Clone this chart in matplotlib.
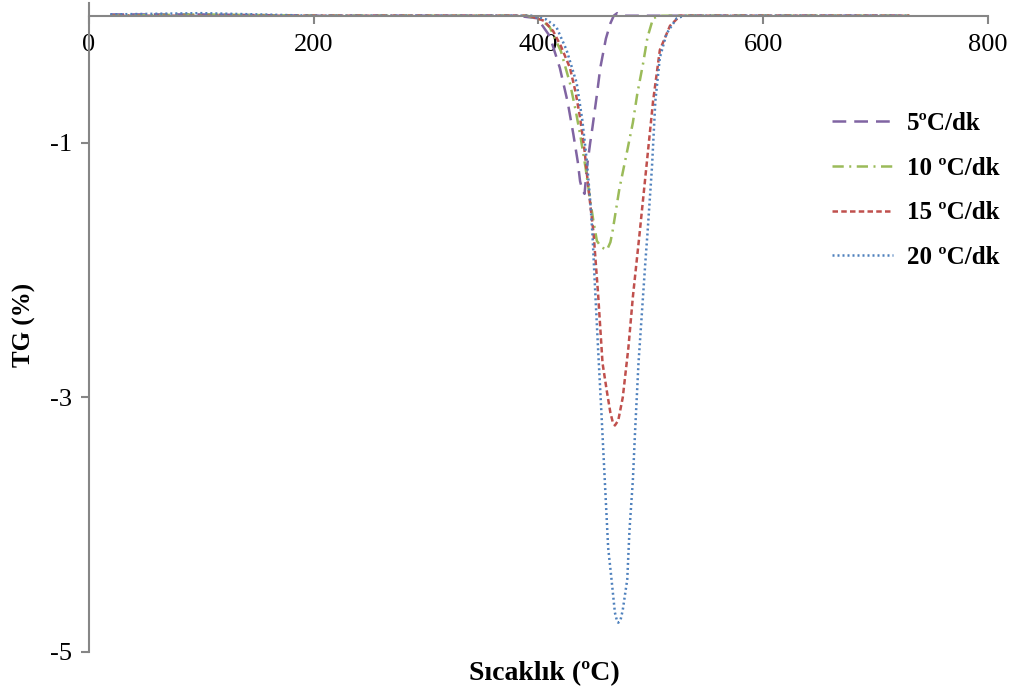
import matplotlib
matplotlib.use("Agg")
import matplotlib.pyplot as plt

# TG curves at four heating rates (temperature in ºC, mass change in %)
t_5 = [19, 100, 200, 300, 380, 399, 410, 419, 426, 431, 435, 437, 439, 441,
       443, 446, 448, 452, 455, 460, 464, 467, 470, 475, 490, 520, 600, 650, 730]
tg_5 = [0.01, 0.01, 0.0, 0.0, 0.0, -0.02, -0.16, -0.41, -0.68, -0.93, -1.15,
        -1.30, -1.37, -1.40, -1.20, -1.00, -0.88, -0.62, -0.41, -0.18, -0.06,
        0.0, 0.02, 0.0, 0.0, 0.0, 0.0, 0.0, 0.0]

t_10 = [19, 100, 200, 300, 390, 402, 410, 420, 428, 433, 437, 442, 446, 449,
        452, 456, 461, 464, 466, 472, 479, 484, 488, 493, 497, 502, 508, 530,
        600, 730]
tg_10 = [0.0, 0.01, 0.0, 0.0, 0.0, -0.03, -0.09, -0.28, -0.53, -0.74, -0.93,
         -1.20, -1.45, -1.62, -1.77, -1.82, -1.84, -1.78, -1.69, -1.36, -1.06,
         -0.84, -0.61, -0.38, -0.17, -0.02, 0.0, 0.0, 0.0, 0.0]

t_15 = [19, 100, 200, 300, 392, 405, 413, 420, 428, 433, 437, 441, 444, 449,
        453, 457, 461, 464, 466, 468, 471, 475, 480, 484, 490, 496, 502, 508,
        517, 526, 560, 600, 730]
tg_15 = [0.0, 0.0, 0.0, 0.0, 0.0, -0.04, -0.12, -0.24, -0.41, -0.60, -0.80,
         -1.06, -1.32, -1.71, -2.18, -2.73, -2.96, -3.12, -3.19, -3.22, -3.18,
         -3.00, -2.61, -2.21, -1.71, -1.19, -0.67, -0.27, -0.08, 0.0, 0.0,
         0.0, 0.0]

t_20 = [19, 100, 200, 300, 395, 407, 416, 425, 434, 439, 443, 446, 448, 450,
        453, 456, 459, 462, 465, 468, 470, 471, 473, 475, 479, 481, 484, 486,
        489, 492, 495, 497, 501, 504, 508, 514, 523, 530, 560, 600, 730]
tg_20 = [0.01, 0.02, 0.0, 0.0, 0.0, -0.03, -0.09, -0.27, -0.53, -0.82, -1.14,
         -1.45, -1.71, -2.08, -2.61, -3.12, -3.65, -4.18, -4.43, -4.69, -4.76,
         -4.77, -4.75, -4.67, -4.43, -4.04, -3.65, -3.26, -2.73, -2.34, -1.95,
         -1.71, -1.19, -0.67, -0.33, -0.14, -0.02, 0.0, 0.0, 0.0, 0.0]

labels = ["5ºC/dk", "10 ºC/dk", "15 ºC/dk", "20 ºC/dk"]
x_ticks = [0, 200, 400, 600, 800]
y_ticks = [-5, -3, -1]

plt.rcParams["font.family"] = ["Liberation Serif", "DejaVu Serif"]

fig = plt.figure(figsize=(10.16, 6.93), dpi=100)
ax = fig.add_axes([0.0876, 0.0592, 0.8848, 0.9365])

lw = 1.8
ax.plot(t_5, tg_5, color="#8064A2", lw=lw, ls=(0, (5.5, 3.2)), label=labels[0])
ax.plot(t_10, tg_10, color="#9BBB59", lw=lw, ls=(0, (4.5, 2.2, 0.8, 2.2)),
        label=labels[1])
ax.plot(t_15, tg_15, color="#C0504D", lw=lw, ls=(0, (2.2, 1.3)), label=labels[2])
ax.plot(t_20, tg_20, color="#4F81BD", lw=lw, ls=(0, (0.8, 1.2)), label=labels[3])

ax.set_xlim(0, 800)
ax.set_ylim(-5, 0.1)
ax.set_xticks(x_ticks)
ax.set_yticks(y_ticks)
ax.set_yticklabels(["-5", "-3", "-1"])

gray = "#868686"
for s in ("top", "right"):
    ax.spines[s].set_visible(False)
ax.spines["bottom"].set_position(("data", 0))
ax.spines["left"].set_color(gray)
ax.spines["bottom"].set_color(gray)
ax.spines["left"].set_linewidth(1.5)
ax.spines["bottom"].set_linewidth(1.5)
ax.tick_params(axis="both", colors=gray, labelcolor="black", labelsize=19,
               length=6, width=1.5, direction="out")
ax.tick_params(axis="x", pad=7)
ax.tick_params(axis="y", pad=6)

fig.text(0.5354, 0.0274, "Sıcaklık (ºC)", ha="center", va="center",
         fontsize=20, fontweight="bold")
fig.text(0.024, 0.531, "TG (%)", ha="center", va="center", rotation=90,
         fontsize=18, fontweight="bold")

ax.legend(loc="upper left", bbox_to_anchor=(0.801, 0.867), frameon=False,
          handlelength=2.44, handletextpad=0.56, labelspacing=0.87,
          prop={"weight": "bold", "size": 18})

fig.savefig("out.png", dpi=100)
